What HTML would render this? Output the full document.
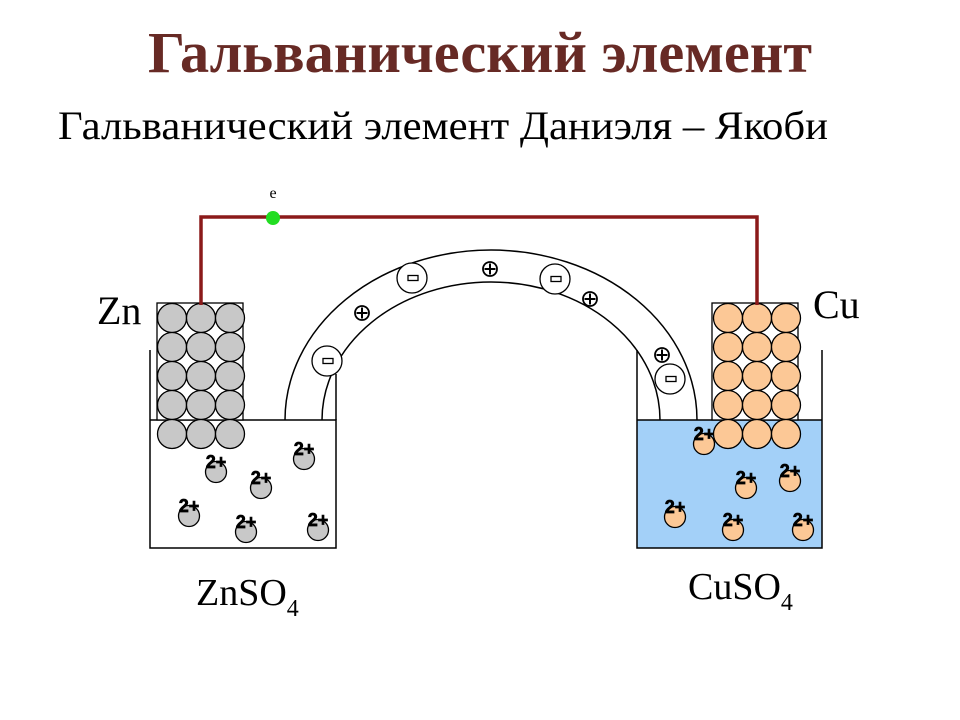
<!DOCTYPE html>
<html><head><meta charset="utf-8"><style>html,body{margin:0;padding:0;background:#fff}svg{display:block}</style></head>
<body>
<svg width="960" height="720" viewBox="0 0 960 720" xmlns="http://www.w3.org/2000/svg">
<defs>
<g id="zi"><circle r="10.5" fill="#c8c8c8" stroke="#000" stroke-width="1.3"/><text x="0" y="-4" font-family="Liberation Sans, sans-serif" font-weight="bold" font-size="18" text-anchor="middle" stroke="#000" stroke-width="0.7" fill="#000">2+</text></g>
<g id="ci"><circle r="10.5" fill="#fcc896" stroke="#000" stroke-width="1.3"/><text x="0" y="-4" font-family="Liberation Sans, sans-serif" font-weight="bold" font-size="18" text-anchor="middle" stroke="#000" stroke-width="0.7" fill="#000">2+</text></g>
<g id="neg"><circle r="15" fill="#fff" stroke="#000" stroke-width="1.3"/><rect x="-4" y="-2.5" width="10" height="5" fill="#fff" stroke="#000" stroke-width="1.3"/></g>
<g id="pos"><circle r="7" fill="#fff" stroke="#000" stroke-width="1.8"/><path d="M-5.5 0H5.5M0 -5.5V5.5" stroke="#000" stroke-width="2"/></g>
</defs>
<text x="480" y="72" font-family="Liberation Serif, serif" font-weight="bold" font-size="58" fill="#672a25" text-anchor="middle" textLength="664" lengthAdjust="spacingAndGlyphs">Гальванический элемент</text>
<text x="58" y="139" font-family="Liberation Serif, serif" font-size="40" fill="#000" textLength="770" lengthAdjust="spacingAndGlyphs">Гальванический элемент Даниэля – Якоби</text>

<rect x="637" y="420" width="185" height="128" fill="#a3d0f8"/>
<path d="M150 350V548H336V420H150" fill="none" stroke="#000" stroke-width="1.5"/>
<path d="M637 350V548H822V350M637 420H822" fill="none" stroke="#000" stroke-width="1.5"/>
<path d="M336 374V420" stroke="#000" stroke-width="1.5"/>
<path d="M285 420A206 170 0 0 1 697 420" fill="none" stroke="#000" stroke-width="1.5"/>
<path d="M322 420A169 138 0 0 1 660 420" fill="none" stroke="#000" stroke-width="1.5"/>
<use href="#neg" x="327" y="361"/>
<use href="#neg" x="412" y="278"/>
<use href="#neg" x="555" y="279"/>
<use href="#neg" x="670" y="379"/>
<use href="#pos" x="362" y="313"/>
<use href="#pos" x="490" y="269"/>
<use href="#pos" x="590" y="299"/>
<use href="#pos" x="662" y="355"/>

<rect x="157" y="303" width="86" height="117" fill="#fff" stroke="#000" stroke-width="1.3"/>
<g fill="#c8c8c8" stroke="#000" stroke-width="1.3">
<circle cx="172" cy="318" r="14.5"/><circle cx="201" cy="318" r="14.5"/><circle cx="230" cy="318" r="14.5"/>
<circle cx="172" cy="347" r="14.5"/><circle cx="201" cy="347" r="14.5"/><circle cx="230" cy="347" r="14.5"/>
<circle cx="172" cy="376" r="14.5"/><circle cx="201" cy="376" r="14.5"/><circle cx="230" cy="376" r="14.5"/>
<circle cx="172" cy="405" r="14.5"/><circle cx="201" cy="405" r="14.5"/><circle cx="230" cy="405" r="14.5"/>
<circle cx="172" cy="434" r="14.5"/><circle cx="201" cy="434" r="14.5"/><circle cx="230" cy="434" r="14.5"/>
</g>
<rect x="712" y="303" width="86" height="117" fill="#fff" stroke="#000" stroke-width="1.3"/>
<g fill="#fcc896" stroke="#000" stroke-width="1.3">
<circle cx="728" cy="318" r="14.5"/><circle cx="757" cy="318" r="14.5"/><circle cx="786" cy="318" r="14.5"/>
<circle cx="728" cy="347" r="14.5"/><circle cx="757" cy="347" r="14.5"/><circle cx="786" cy="347" r="14.5"/>
<circle cx="728" cy="376" r="14.5"/><circle cx="757" cy="376" r="14.5"/><circle cx="786" cy="376" r="14.5"/>
<circle cx="728" cy="405" r="14.5"/><circle cx="757" cy="405" r="14.5"/><circle cx="786" cy="405" r="14.5"/>
<circle cx="728" cy="434" r="14.5"/><circle cx="757" cy="434" r="14.5"/><circle cx="786" cy="434" r="14.5"/>
</g>
<use href="#zi" x="216" y="472"/><use href="#zi" x="261" y="488"/><use href="#zi" x="304" y="459"/>
<use href="#zi" x="189" y="516"/><use href="#zi" x="246" y="532"/><use href="#zi" x="318" y="530"/>
<use href="#ci" x="704" y="444"/><use href="#ci" x="746" y="488"/><use href="#ci" x="790" y="481"/>
<use href="#ci" x="675" y="517"/><use href="#ci" x="733" y="530"/><use href="#ci" x="803" y="530"/>

<path d="M201 305V217H757V305" fill="none" stroke="#8b1a1a" stroke-width="3.5"/>
<circle cx="273" cy="218" r="7" fill="#22dd22"/>
<text x="273" y="198" font-family="Liberation Serif, serif" font-size="16" text-anchor="middle">e</text>

<text x="97" y="324" font-family="Liberation Serif, serif" font-size="40">Zn</text>
<text x="813" y="318" font-family="Liberation Serif, serif" font-size="40">Cu</text>
<text x="196" y="605" font-family="Liberation Serif, serif" font-size="38">ZnSO<tspan font-size="24" dy="11">4</tspan></text>
<text x="688" y="599" font-family="Liberation Serif, serif" font-size="38">CuSO<tspan font-size="24" dy="11">4</tspan></text>
</svg>
</body></html>
